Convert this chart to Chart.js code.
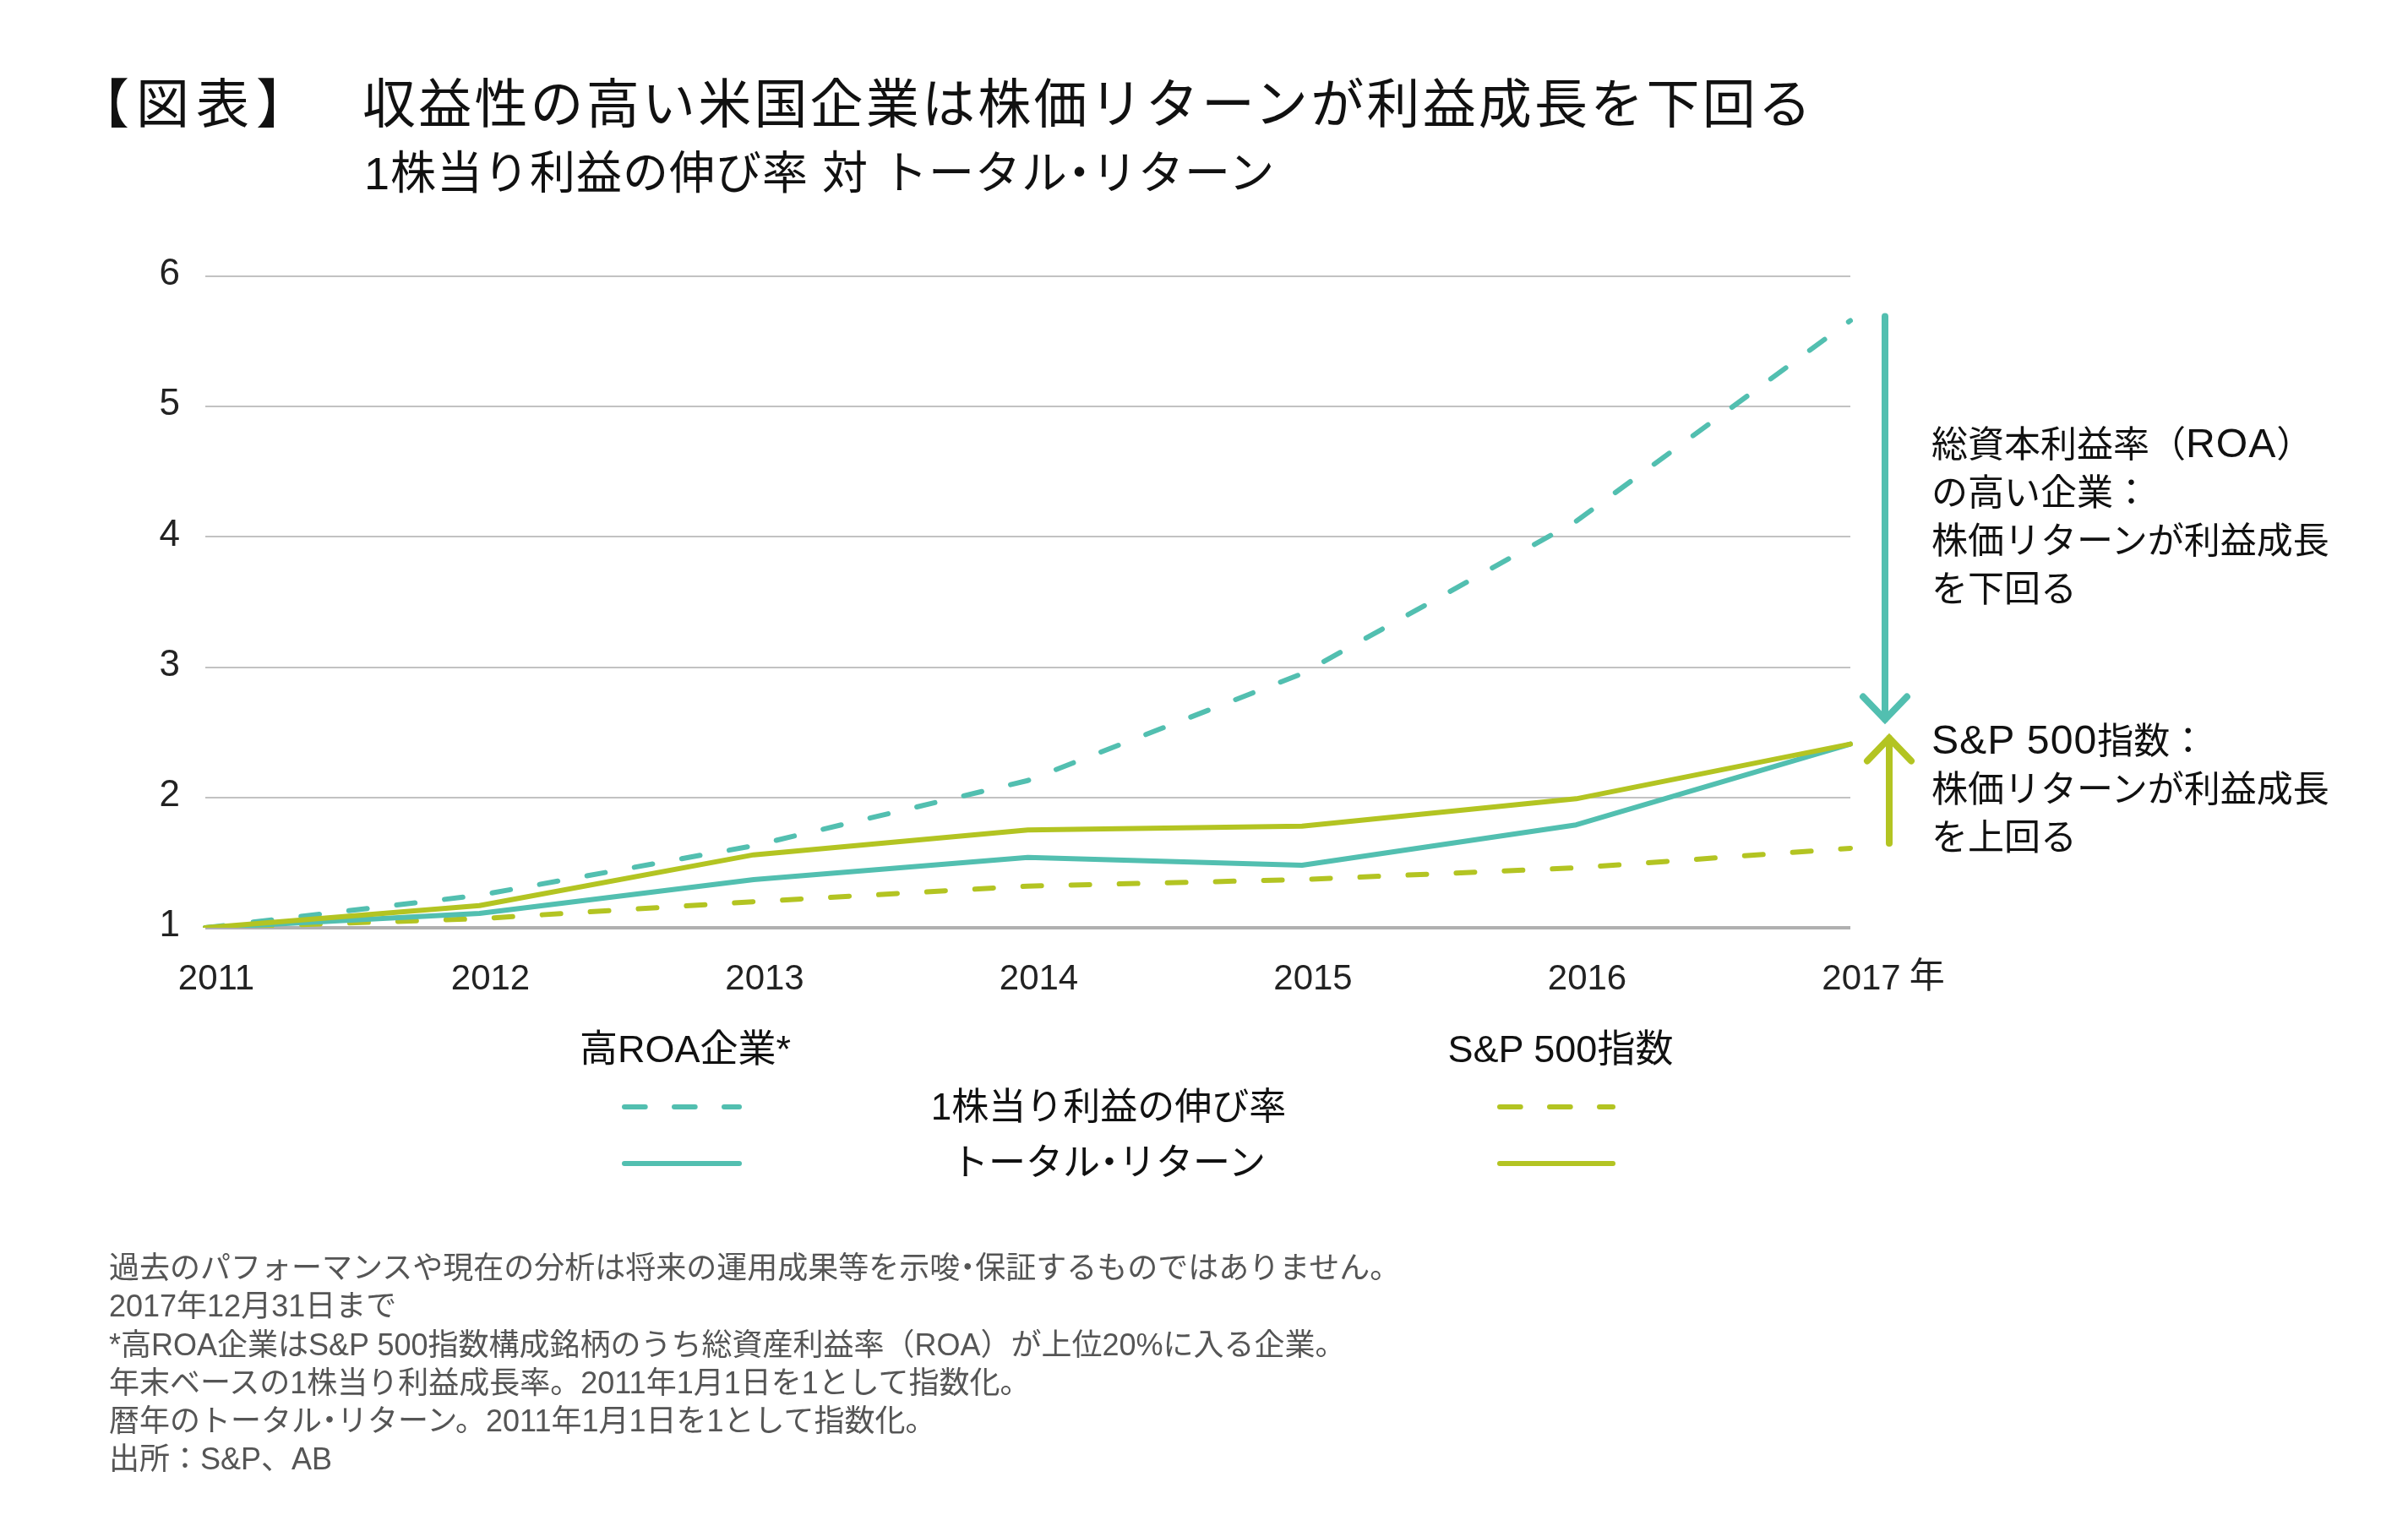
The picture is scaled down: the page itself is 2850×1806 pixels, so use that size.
<!DOCTYPE html>
<html>
<head>
<meta charset="utf-8">
<title>収益性の高い米国企業は株価リターンが利益成長を下回る</title>
<script src="https://cdn.jsdelivr.net/npm/chart.js"></script>
<style>
  html, body { margin: 0; padding: 0; background: #fff; }
  #page {
    position: relative; width: 2850px; height: 1806px; overflow: hidden;
    font-family: "Liberation Sans", "Noto Sans CJK JP", sans-serif; color: #111;
  }
  #chart { position: absolute; left: 0; top: 0; }
  .t { position: absolute; white-space: nowrap; line-height: 1; }
  .c { text-align: center; width: 600px; }
  .dot { margin: 0 -0.25em; }
  .wide { font-size: 1.12em; letter-spacing: 1px; }
  #notes { position: absolute; left: 129px; top: 1478px; font-size: 36px; line-height: 45.3px; color: #555; white-space: nowrap; }
  #keys { position: absolute; left: 0; top: 0; }
</style>
</head>
<body>
<div id="page">
  <canvas id="chart" width="2850" height="1806"></canvas>

  <div class="t" style="left:90px; top:92px; font-size:63px; letter-spacing:8px;">【図表】</div>
  <div class="t" style="left:429px; top:92px; font-size:63px; letter-spacing:3.2px;">収益性の高い米国企業は株価リターンが利益成長を下回る</div>
  <div class="t" style="left:431px; top:178px; font-size:54px; letter-spacing:1px;">1株当り利益の伸び率 対 トータル<span class="dot">・</span>リターン</div>

  <div class="t" style="left:2286px; top:496px; font-size:43px; line-height:57px;">総資本利益率（<span class="wide">ROA</span>）<br>の高い企業：<br>株価リターンが利益成長<br>を下回る</div>
  <div class="t" style="left:2286px; top:847px; font-size:43px; line-height:57px;"><span class="wide">S&amp;P 500</span>指数：<br>株価リターンが利益成長<br>を上回る</div>

  <div class="t c" style="left:511px; top:1219px; font-size:45px;">高ROA企業*</div>
  <div class="t c" style="left:1547px; top:1219px; font-size:45px;">S&amp;P 500指数</div>
  <div class="t c" style="left:1012px; top:1288px; font-size:44px;">1株当り利益の伸び率</div>
  <div class="t c" style="left:1012px; top:1354px; font-size:44px;">トータル<span class="dot">・</span>リターン</div>

  <svg id="keys" width="2850" height="1806">
    <g stroke-width="6" stroke-linecap="round">
      <line x1="739" y1="1310" x2="875" y2="1310" stroke="#52bfb0" stroke-dasharray="24.7 34.3"/>
      <line x1="739" y1="1377" x2="875" y2="1377" stroke="#52bfb0"/>
      <line x1="1775" y1="1310" x2="1909" y2="1310" stroke="#b3c422" stroke-dasharray="24.7 34.3"/>
      <line x1="1775" y1="1377" x2="1909" y2="1377" stroke="#b3c422"/>
    </g>
  </svg>

  <div id="notes">
    過去のパフォーマンスや現在の分析は将来の運用成果等を示唆<span class="dot">・</span>保証するものではありません。<br>
    2017年12月31日まで<br>
    *高ROA企業はS&amp;P 500指数構成銘柄のうち総資産利益率（ROA）が上位20%に入る企業。<br>
    年末ベースの1株当り利益成長率。2011年1月1日を1として指数化。<br>
    暦年のトータル<span class="dot">・</span>リターン。2011年1月1日を1として指数化。<br>
    出所：S&amp;P、AB
  </div>
</div>

<script>
// data (index, 2011 = 1)
const years = ['2011', '2012', '2013', '2014', '2015', '2016', '2017'];
const roaEps = [1, 1.25, 1.63, 2.13, 2.95, 4.12, 5.66];
const roaTotalReturn = [1, 1.11, 1.37, 1.54, 1.48, 1.79, 2.41];
const spEps = [1, 1.07, 1.20, 1.32, 1.37, 1.46, 1.61];
const spTotalReturn = [1, 1.17, 1.56, 1.75, 1.78, 1.99, 2.41];
const yMin = 1, yMax = 6, yStep = 1;

const teal = '#52bfb0';
const lime = '#b3c422';
const dash = [22, 35];

function arrow(ctx, x, yFrom, yTip, color) {
  const dir = yTip > yFrom ? 1 : -1;
  ctx.save();
  ctx.strokeStyle = color;
  ctx.lineWidth = 8;
  ctx.lineCap = 'round';
  ctx.beginPath();
  ctx.moveTo(x, yFrom);
  ctx.lineTo(x, yTip);
  ctx.moveTo(x - 26, yTip - dir * 27);
  ctx.lineTo(x, yTip);
  ctx.lineTo(x + 26, yTip - dir * 27);
  ctx.stroke();
  ctx.restore();
}

const extras = {
  id: 'extras',
  afterDatasetsDraw(chart) {
    const ctx = chart.ctx;
    const x = chart.scales.x, y = chart.scales.y;
    const last = years.length - 1;
    const xr = x.getPixelForValue(last);
    arrow(ctx, xr + 41, y.getPixelForValue(roaEps[last]) - 5, y.getPixelForValue(roaTotalReturn[last]) - 29, teal);
    arrow(ctx, xr + 46, y.getPixelForValue(spEps[last]) - 6, y.getPixelForValue(spTotalReturn[last]) - 7, lime);
  },
  afterDraw(chart) {
    // 年 after the last year label
    const ctx = chart.ctx;
    const x = chart.scales.x;
    const last = years.length - 1;
    ctx.save();
    ctx.font = '42px "Liberation Sans"';
    const w = ctx.measureText(years[last]).width;
    ctx.font = '42px "Noto Sans CJK JP"';
    ctx.fillStyle = '#222';
    ctx.textBaseline = 'middle';
    ctx.fillText('年', x.getPixelForValue(last) + 13 + w / 2 + 10, chart.chartArea.bottom + 55);
    ctx.restore();
  }
};

new Chart(document.getElementById('chart'), {
  type: 'line',
  data: {
    labels: years,
    datasets: [
      { label: 'S&P 500指数 トータル・リターン', data: spTotalReturn, borderColor: lime },
      { label: '高ROA企業 トータル・リターン', data: roaTotalReturn, borderColor: teal },
      { label: 'S&P 500指数 1株当り利益の伸び率', data: spEps, borderColor: lime, borderDash: dash },
      { label: '高ROA企業 1株当り利益の伸び率', data: roaEps, borderColor: teal, borderDash: dash }
    ]
  },
  options: {
    responsive: false,
    animation: false,
    layout: { padding: { top: 327, left: 100, right: 660, bottom: 626 } },
    elements: {
      line: { borderWidth: 6, tension: 0, borderCapStyle: 'round', borderJoinStyle: 'round', fill: false },
      point: { radius: 0, hoverRadius: 0 }
    },
    plugins: { legend: { display: false }, tooltip: { enabled: false } },
    scales: {
      x: {
        grid: { display: false },
        border: { display: false },
        ticks: { color: '#222', font: { family: 'Liberation Sans', size: 42 }, padding: 28, labelOffset: 13, maxRotation: 0 },
        afterFit(scale) { scale.height = 82; }
      },
      y: {
        min: yMin, max: yMax,
        border: { display: false },
        grid: {
          drawTicks: false,
          color: c => c.tick.value === yMin ? '#b0b0b0' : '#c2c2c2',
          lineWidth: c => c.tick.value === yMin ? 4 : 2
        },
        ticks: { stepSize: yStep, color: '#222', font: { family: 'Liberation Sans', size: 44 }, padding: 30, labelOffset: -2 },
        afterFit(scale) { scale.width = 143; }
      }
    }
  },
  plugins: [extras]
});
</script>
</body>
</html>
